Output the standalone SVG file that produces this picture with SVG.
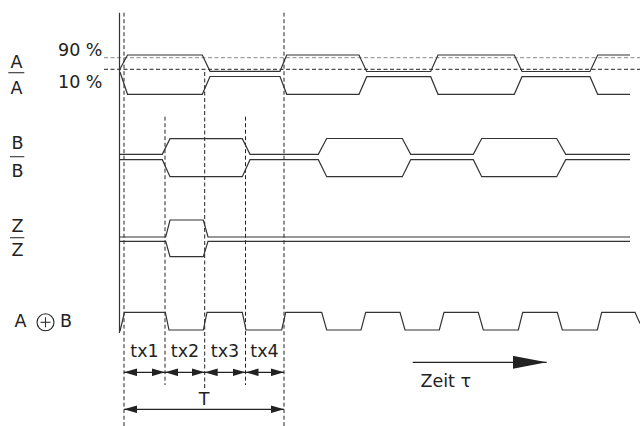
<svg xmlns="http://www.w3.org/2000/svg" width="640" height="426" viewBox="0 0 640 426">
<style>
text{font-family:"DejaVu Sans","Liberation Sans",sans-serif;font-size:17.5px;fill:#222}
.sig{fill:none;stroke:#333;stroke-width:1.2;stroke-linejoin:miter}
.guide{fill:none;stroke:#222;stroke-width:1;stroke-dasharray:4 2.5}
.guide-g{fill:none;stroke:#888;stroke-width:1;stroke-dasharray:4 2.5}
.bar{stroke:#333;stroke-width:1.1}
.dim{fill:none;stroke:#222;stroke-width:1.2}
.mid{text-anchor:middle}
</style>
<defs>
<marker id="ah" markerUnits="userSpaceOnUse" markerWidth="13" markerHeight="8" refX="13" refY="4" orient="auto-start-reverse" viewBox="0 0 13 8">
<path d="M0,0.2 L13,4 L0,7.8 z" fill="#222"/>
</marker>
<marker id="ahBig" markerUnits="userSpaceOnUse" markerWidth="34" markerHeight="13" refX="34" refY="6.5" orient="auto" viewBox="0 0 34 13">
<path d="M0,0 L34,6.5 L0,13 z" fill="#222"/>
</marker>
</defs>
<rect width="640" height="426" fill="#fff"/>

<g id="guides">
<line class="guide-g" x1="104" y1="57.7" x2="640" y2="57.7"/>
<line class="guide" x1="104" y1="69.3" x2="640" y2="69.3"/>
<line class="guide" x1="124" y1="12.7" x2="124" y2="426"/>
<line class="guide" x1="284" y1="12.7" x2="284" y2="426"/>
<line class="guide" x1="165" y1="116.7" x2="165" y2="385"/>
<line class="guide" x1="245.5" y1="116.7" x2="245.5" y2="385"/>
<line class="guide" x1="204.7" y1="72" x2="204.7" y2="389"/>
<line x1="119.5" y1="12.7" x2="119.5" y2="333" stroke="#333" stroke-width="1.2"/>
</g>

<g id="signal-A">
<text x="16.5" y="67.7" class="mid">A</text>
<line class="bar" x1="8.3" y1="72.7" x2="24.3" y2="72.7"/>
<text x="16.5" y="94" class="mid">A</text>
<text x="58" y="56">90 %</text>
<text x="58" y="87.7">10 %</text>
<path class="sig" d="M120,69 L127.5,55 L202.3,55 L210,71.3 L280,71.3 L286.7,55 L359,55 L366.7,71.5 L430.7,71.5 L438,55 L514.3,55 L522,71.5 L590,71.5 L597.7,55 L630,55"/>
<path class="sig" d="M120,72 L127.5,94.3 L202.3,94.3 L210,76.5 L280,76.5 L286.7,94.3 L359,94.3 L366.7,76.7 L430.7,76.7 L438,94.3 L514.3,94.3 L522,76.7 L590,76.7 L597.7,94.3 L630,94.3"/>
</g>

<g id="signal-B">
<text x="17.5" y="149.3" class="mid">B</text>
<line class="bar" x1="10" y1="156.7" x2="24.3" y2="156.7"/>
<text x="17.5" y="176.7" class="mid">B</text>
<path class="sig" d="M120,154.3 L162.3,154.3 L170,138.7 L242.3,138.7 L250,154.3 L318.3,154.3 L326.7,138.5 L402.3,138.5 L410.7,154.3 L473.3,154.3 L481.7,138.5 L556.7,138.5 L565.7,154.3 L630,154.3"/>
<path class="sig" d="M120,159.7 L162.3,159.7 L170,176.7 L242.3,176.7 L250,159.7 L318.3,159.7 L326.7,176.7 L402.3,176.7 L410.7,159.7 L473.3,159.7 L481.7,176.7 L556.7,176.7 L565.7,159.7 L630,159.7"/>
</g>

<g id="signal-Z">
<text x="17.5" y="231.7" class="mid">Z</text>
<line class="bar" x1="10" y1="237.7" x2="24.3" y2="237.7"/>
<text x="17.5" y="255.7" class="mid">Z</text>
<path class="sig" d="M120,237 L165.7,237 L170,220 L203.3,220 L208,237 L630,237"/>
<path class="sig" d="M120,241.3 L165.7,241.3 L170,256.7 L203.3,256.7 L208,241.3 L630,241.3"/>
</g>

<g id="signal-AxorB">
<text x="14.5" y="327.3">A</text>
<circle cx="45.5" cy="322.3" r="8.5" fill="none" stroke="#222" stroke-width="1.1"/>
<line class="bar" x1="40.5" y1="322.3" x2="50.5" y2="322.3"/>
<line class="bar" x1="45.5" y1="317.3" x2="45.5" y2="327.3"/>
<text x="60" y="327.3">B</text>
<path class="sig" d="M120,331 L124.5,312.3 L165.3,312.3 L169,330 L203.3,330 L207,312.3 L242.3,312.3 L246,330 L281.7,330 L285.7,312.3 L321.7,312.3 L326.7,330 L361,330 L365.7,312.3 L400,312.3 L405,330 L439.3,330 L444,312.3 L478.3,312.3 L483.3,330 L518.3,330 L522.7,312.3 L557.3,312.3 L562.3,330 L597.3,330 L601.7,312.3 L635,312.3 L640,323.5"/>
</g>

<g id="connectors">
<line class="dim" x1="124" y1="372.3" x2="165" y2="372.3" marker-start="url(#ah)" marker-end="url(#ah)"/>
<line class="dim" x1="165" y1="372.3" x2="204.7" y2="372.3" marker-start="url(#ah)" marker-end="url(#ah)"/>
<line class="dim" x1="204.7" y1="372.3" x2="245.5" y2="372.3" marker-start="url(#ah)" marker-end="url(#ah)"/>
<line class="dim" x1="245.5" y1="372.3" x2="284" y2="372.3" marker-start="url(#ah)" marker-end="url(#ah)"/>
<line class="dim" x1="124" y1="409.3" x2="284" y2="409.3" marker-start="url(#ah)" marker-end="url(#ah)"/>
<line class="dim" x1="412.7" y1="362.3" x2="546.7" y2="362.3" marker-end="url(#ahBig)"/>
</g>

<g id="dimension-labels">
<text x="144.5" y="357.3" class="mid">tx1</text>
<text x="185" y="357.3" class="mid">tx2</text>
<text x="225" y="357.3" class="mid">tx3</text>
<text x="264.5" y="357.3" class="mid">tx4</text>
<text x="204" y="405" class="mid">T</text>
<text x="420.5" y="387.3">Zeit τ</text>
</g>
</svg>
